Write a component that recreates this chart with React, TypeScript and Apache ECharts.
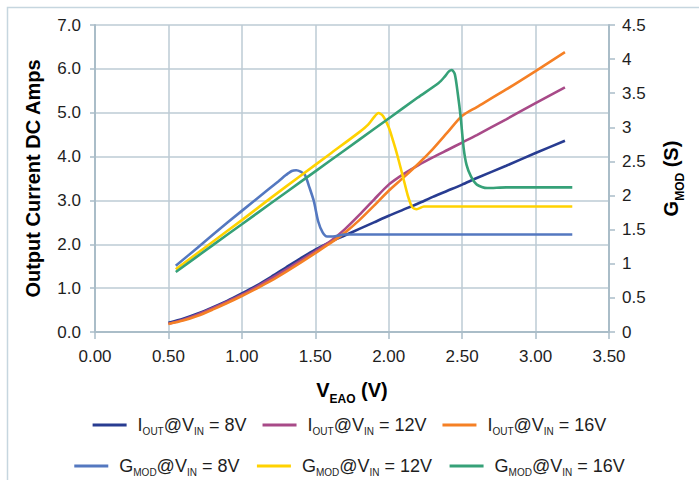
import React, { useEffect, useRef } from "react";
import * as echarts from "echarts";

const FONT = '"Liberation Sans", Arial, Helvetica, sans-serif';

// X ticks
const xTicks = [0, 0.5, 1, 1.5, 2, 2.5, 3, 3.5];

// Output current curves (A) vs V_EAO (V)
const ioutX = [0.5, 0.6, 0.7, 0.8, 0.9, 1.0, 1.1, 1.2, 1.3, 1.4, 1.5, 1.6, 1.7, 1.8, 1.9, 2.0, 2.1, 2.2, 2.3, 2.4, 2.5, 2.6, 2.8, 3.0, 3.2];
const iout8 = [0.21, 0.3, 0.42, 0.56, 0.71, 0.88, 1.06, 1.26, 1.47, 1.68, 1.88, 2.05, 2.2, 2.35, 2.5, 2.65, 2.79, 2.93, 3.08, 3.22, 3.36, 3.51, 3.79, 4.08, 4.36];
const iout12 = [0.19, 0.28, 0.4, 0.54, 0.69, 0.85, 1.03, 1.22, 1.42, 1.63, 1.84, 2.06, 2.34, 2.67, 3.02, 3.36, 3.6, 3.8, 3.98, 4.15, 4.32, 4.49, 4.85, 5.22, 5.58];
const iout16 = [0.18, 0.26, 0.37, 0.51, 0.66, 0.82, 0.99, 1.17, 1.37, 1.58, 1.8, 2.02, 2.26, 2.55, 2.88, 3.22, 3.52, 3.83, 4.17, 4.55, 4.93, 5.13, 5.53, 5.95, 6.38];

// Modulator gain curves (S) vs V_EAO (V)
const gmod8X = [0.55, 0.7, 0.9, 1.1, 1.25, 1.3, 1.34, 1.37, 1.4, 1.43, 1.46, 1.49, 1.52, 1.55, 1.58, 1.62, 1.7, 2.0, 2.5, 3.0, 3.25];
const gmod8 = [0.97, 1.24, 1.6, 1.95, 2.21, 2.3, 2.36, 2.37, 2.35, 2.3, 2.12, 1.92, 1.62, 1.46, 1.4, 1.4, 1.43, 1.43, 1.43, 1.43, 1.43];
const gmod12X = [0.55, 0.8, 1.0, 1.2, 1.4, 1.6, 1.8, 1.86, 1.9, 1.93, 1.96, 2.0, 2.03, 2.06, 2.1, 2.13, 2.16, 2.19, 2.24, 2.5, 3.0, 3.25];
const gmod12 = [0.92, 1.32, 1.64, 1.97, 2.29, 2.61, 2.93, 3.04, 3.15, 3.21, 3.17, 3.0, 2.8, 2.58, 2.25, 2.0, 1.83, 1.8, 1.84, 1.84, 1.84, 1.84];
const gmod16X = [0.55, 0.8, 1.0, 1.2, 1.4, 1.6, 1.8, 2.0, 2.2, 2.34, 2.38, 2.41, 2.43, 2.45, 2.47, 2.49, 2.51, 2.53, 2.56, 2.6, 2.67, 2.8, 3.25];
const gmod16 = [0.88, 1.27, 1.58, 1.89, 2.2, 2.51, 2.82, 3.13, 3.44, 3.65, 3.74, 3.82, 3.84, 3.78, 3.5, 3.15, 2.7, 2.45, 2.28, 2.16, 2.11, 2.12, 2.12];

const seriesDefs = [
  { name: "Iout8", label: "{f|I}{s|OUT}{m|@V}{s|IN}{m| = 8V}", x: ioutX, y: iout8, axis: 0, color: "#283C91" },
  { name: "Iout12", label: "{f|I}{s|OUT}{m|@V}{s|IN}{m| = 12V}", x: ioutX, y: iout12, axis: 0, color: "#A84A88" },
  { name: "Iout16", label: "{f|I}{s|OUT}{m|@V}{s|IN}{m| = 16V}", x: ioutX, y: iout16, axis: 0, color: "#F58025" },
  { name: "Gmod8", label: "{f|G}{s|MOD}{m|@V}{s|IN}{m| = 8V}", x: gmod8X, y: gmod8, axis: 1, color: "#5478C0" },
  { name: "Gmod12", label: "{f|G}{s|MOD}{m|@V}{s|IN}{m| = 12V}", x: gmod12X, y: gmod12, axis: 1, color: "#FFD200" },
  { name: "Gmod16", label: "{f|G}{s|MOD}{m|@V}{s|IN}{m| = 16V}", x: gmod16X, y: gmod16, axis: 1, color: "#36A178" },
];

const GRID = "#BCCBD4";
const AXIS = "#AABDC8";
const TXT = "#1E1E1E";

export default function App() {
  const ref = useRef<HTMLDivElement>(null);
  useEffect(() => {
    if (!ref.current) return;
    const chart = echarts.init(ref.current, undefined, { renderer: "svg" });
    const labelMap: Record<string, string> = {};
    seriesDefs.forEach((d) => (labelMap[d.name] = d.label));
    const legendRich = {
      f: { fontSize: 18, fontFamily: FONT, color: TXT, padding: [0, 0, 0, 6] },
      m: { fontSize: 18, fontFamily: FONT, color: TXT },
      s: { fontSize: 10, fontFamily: FONT, color: TXT, padding: [13, 0, 0, 0] },
    };
    const titleRich = {
      b: { fontSize: 20, fontWeight: "bold", fontFamily: FONT, color: "#000" },
      s: { fontSize: 12, fontWeight: "bold", fontFamily: FONT, color: "#000", padding: [18, 0, 0, 0] },
    };
    const legendBase = {
      left: "center",
      padding: 0,
      icon: "rect",
      itemWidth: 34,
      itemHeight: 3,
      itemGap: 16,
      formatter: (n: string) => labelMap[n],
      textStyle: { fontSize: 18, fontFamily: FONT, color: TXT, rich: legendRich },
    };
    chart.setOption({
      animation: false,
      backgroundColor: "#fff",
      graphic: [
        {
          type: "rect",
          shape: { x: 7.5, y: 7.5, width: 1000, height: 1000 },
          style: { fill: "none", stroke: "#C6D6DF", lineWidth: 1.5 },
          silent: true,
        },
      ],
      grid: { left: 95, right: 90, top: 25, bottom: 148 },
      legend: [
        { ...legendBase, top: 416, data: seriesDefs.slice(0, 3).map((d) => d.name) },
        { ...legendBase, top: 457, itemGap: 17.5, data: seriesDefs.slice(3).map((d) => d.name) },
      ],
      xAxis: {
        type: "value",
        min: xTicks[0],
        max: xTicks[xTicks.length - 1],
        interval: 0.5,
        name: "{b|V}{s|EAO}{b| (V)}",
        nameLocation: "middle",
        nameGap: 43,
        nameTextStyle: { rich: titleRich },
        axisLine: { show: true, onZero: false, lineStyle: { color: AXIS, width: 2 } },
        axisTick: { show: true, length: 7, lineStyle: { color: AXIS, width: 1.5 } },
        splitLine: { show: true, lineStyle: { color: GRID, width: 1.5 } },
        axisLabel: { formatter: (v: number) => v.toFixed(2), fontSize: 17, fontFamily: FONT, color: TXT, margin: 16 },
      },
      yAxis: [
        {
          type: "value",
          min: 0,
          max: 7,
          interval: 1,
          position: "left",
          name: "Output Current DC Amps",
          nameLocation: "middle",
          nameRotate: 90,
          nameGap: 52,
          nameTextStyle: { fontSize: 20, fontWeight: "bold", fontFamily: FONT, color: "#000" },
          axisLine: { show: true, lineStyle: { color: AXIS, width: 2 } },
          axisTick: { show: true, length: 5, lineStyle: { color: AXIS, width: 1.5 } },
          splitLine: { show: true, lineStyle: { color: GRID, width: 1.5 } },
          axisLabel: { formatter: (v: number) => v.toFixed(1), fontSize: 17, fontFamily: FONT, color: TXT, margin: 14 },
        },
        {
          type: "value",
          min: 0,
          max: 4.5,
          interval: 0.5,
          position: "right",
          name: "{b|G}{s|MOD}{b| (S)}",
          nameLocation: "middle",
          nameRotate: 90,
          nameGap: 47,
          nameTextStyle: { rich: titleRich },
          axisLine: { show: true, lineStyle: { color: AXIS, width: 2 } },
          axisTick: { show: true, length: 6, lineStyle: { color: AXIS, width: 1.5 } },
          splitLine: { show: false },
          axisLabel: { fontSize: 17, fontFamily: FONT, color: TXT, margin: 13 },
        },
      ],
      series: seriesDefs.map((d) => ({
        name: d.name,
        type: "line",
        yAxisIndex: d.axis,
        data: d.x.map((xv, i) => [xv, d.y[i]]),
        showSymbol: false,
        symbol: "none",
        smooth: 0.25,
        lineStyle: { color: d.color, width: 2.6 },
        itemStyle: { color: d.color },
      })),
    });
    return () => chart.dispose();
  }, []);
  return (
    <div
      ref={ref}
      style={{ position: "fixed", left: 0, top: 0, width: 699, height: 480, background: "#fff" }}
    />
  );
}
